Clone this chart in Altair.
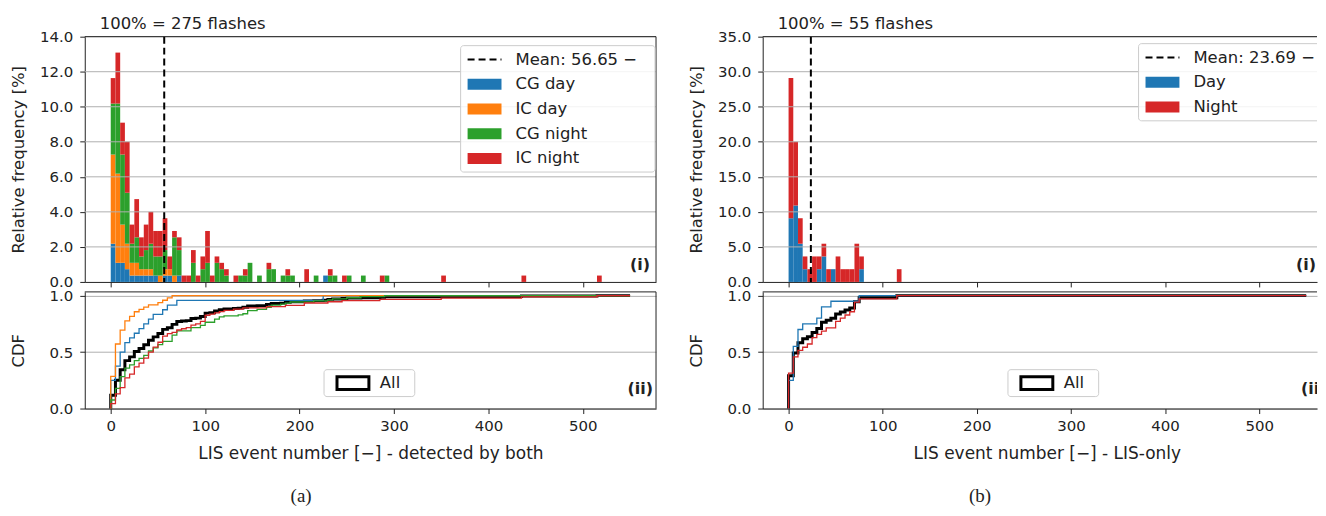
import altair as alt
import pandas as pd

# ---------------- (a) LIS event number, flashes detected by both ----------------
bins_a = [0, 5, 10, 15, 20, 25, 30, 35, 40, 45, 50, 55, 60, 65, 70, 75, 80, 85, 90, 95,
          100, 105, 110, 115, 120, 130, 135, 140, 145, 155, 165, 170, 180, 185, 190,
          205, 215, 225, 230, 235, 245, 250, 265, 285, 290, 350, 435, 515]
cg_day_a = [6, 3, 3, 2, 1, 1, 1, 1, 1, 1, 0, 1, 1, 0, 1, 0, 0, 0, 0, 0,
            0, 0, 0, 0, 0, 0, 0, 0, 0, 0, 0, 0, 0, 0, 0,
            0, 0, 1, 0, 0, 0, 0, 0, 0, 0, 0, 0, 0]
ic_day_a = [14, 14, 6, 4, 2, 2, 1, 1, 1, 0, 1, 1, 1, 1, 0, 0, 0, 0, 0, 0,
            0, 0, 0, 0, 0, 0, 0, 0, 0, 0, 0, 0, 0, 0, 0,
            0, 0, 0, 0, 0, 0, 0, 0, 0, 0, 0, 0, 0]
cg_night_a = [8, 11, 11, 8, 3, 4, 2, 3, 4, 3, 3, 3, 0, 6, 4, 0, 0, 3, 0, 2,
              3, 0, 3, 2, 1, 0, 1, 1, 3, 1, 2, 2, 1, 1, 1,
              0, 1, 0, 1, 1, 0, 1, 1, 0, 1, 0, 0, 0]
ic_night_a = [4, 8, 5, 8, 3, 6, 3, 4, 5, 4, 4, 5, 2, 1, 2, 1, 1, 2, 1, 2,
              5, 1, 1, 1, 1, 1, 0, 1, 0, 0, 1, 0, 0, 1, 0,
              2, 0, 0, 1, 0, 1, 0, 0, 1, 0, 1, 1, 1]
total_a = 275
mean_a = 56.65
cats_a = ["CG day", "IC day", "CG night", "IC night"]
colors_a = ["#1f77b4", "#ff7f0e", "#2ca02c", "#d62728"]
yticks_a = [0, 2, 4, 6, 8, 10, 12, 14]
xtitle_a = "LIS event number [\u2212] - detected by both"

# ---------------- (b) LIS event number, LIS-only flashes ----------------
bins_b = [0, 5, 10, 15, 20, 25, 30, 35, 40, 45, 50, 55, 60, 65, 70, 75, 115]
day_b = [5, 6, 3, 1, 0, 0, 1, 2, 0, 1, 0, 0, 0, 0, 0, 1, 0]
night_b = [11, 5, 2, 1, 1, 2, 1, 1, 1, 0, 2, 1, 1, 1, 3, 1, 1]
total_b = 55
mean_b = 23.69
cats_b = ["Day", "Night"]
colors_b = ["#1f77b4", "#d62728"]
yticks_b = [0, 5, 10, 15, 20, 25, 30, 35]
xtitle_b = "LIS event number [\u2212] - LIS-only"

bin_width = 5
cdf_end = 550
xticks = [0, 100, 200, 300, 400, 500]
cdf_ticks = [0, 0.5, 1.0]

# ---------------- layout ----------------
FONT = "DejaVu Sans"
INK = "#222222"
GRID = "#b0b0b0"
WL, WR = 573, 556
HH, HC = 246, 117
XL = [-27.5, 577.5]
XR = [-27.5, -27.5 + WR / 0.944]
CDF_MAX = 1.033

one = pd.DataFrame({"d": [0]})


def txt(s, x, y, size=16.5, align="left", weight="normal", font=FONT, clip=False):
    return alt.Chart(one).mark_text(
        text=s, align=align, baseline="middle", fontSize=size, fontWeight=weight,
        font=font, color=INK, clip=clip
    ).encode(x=alt.value(x), y=alt.value(y))


def box(x1, x2, y1, y2, clip=False):
    return alt.Chart(one).mark_rect(
        fill="white", fillOpacity=0.85, stroke="#cccccc", strokeWidth=1,
        cornerRadius=3, clip=clip
    ).encode(x=alt.value(x1), x2=alt.value(x2), y=alt.value(y1), y2=alt.value(y2))


def patch(x1, x2, y1, y2, color):
    return alt.Chart(one).mark_rect(color=color).encode(
        x=alt.value(x1), x2=alt.value(x2), y=alt.value(y1), y2=alt.value(y2))


def hline(y):
    return alt.Chart(one).mark_rule(color=INK, strokeWidth=1).encode(y=alt.value(y))


def vline(x):
    return alt.Chart(one).mark_rule(color=INK, strokeWidth=1).encode(x=alt.value(x))


def hist_frame(bins, series, names):
    rows = []
    for k, (name, vals) in enumerate(zip(names, series)):
        for b, n in zip(bins, vals):
            if n:
                rows.append({"start": b, "end": b + bin_width, "cat": name, "k": k, "n": n})
    return pd.DataFrame(rows)


def cdf_frame(bins, series, names):
    rows = []
    allv = [sum(v) for v in zip(*series)]
    for name, vals in list(zip(names, series)) + [("All", allv)]:
        tot = sum(vals)
        c = 0
        i = 0
        rows.append({"x": 0, "cdf": 0.0, "s": name, "i": i})
        for b, n in zip(bins, vals):
            if n:
                c += n
                i += 1
                rows.append({"x": b, "cdf": c / tot, "s": name, "i": i})
        rows.append({"x": cdf_end, "cdf": 1.0, "s": name, "i": i + 1})
    return pd.DataFrame(rows)


def hist_panel(bins, series, names, colors, total, mean, yticks, xdom, W, label_total, right_open):
    df = hist_frame(bins, series, names)
    xs = alt.Scale(domain=xdom, nice=False, zero=False)
    ys = alt.Scale(domain=[0, yticks[-1]], nice=False, zero=True)
    xax = alt.Axis(values=xticks, labels=False, title=None, grid=False, tickSize=5,
                   domain=True, labelFlush=False)
    yax = alt.Axis(values=yticks, format=".1f", grid=False, tickSize=5, labelPadding=7,
                   labelFlush=False, title="Relative frequency [%]", titleX=-58)
    bars = alt.Chart(df).transform_calculate(
        pct=f"datum.n * 100 / {total}"
    ).transform_stack(
        stack="pct", groupby=["start"], sort=[alt.SortField("k", order="ascending")],
        as_=["y0", "y1"]
    ).mark_rect(strokeWidth=0).encode(
        x=alt.X("start:Q", scale=xs, axis=xax),
        x2="end:Q",
        y=alt.Y("y0:Q", scale=ys, axis=yax),
        y2="y1:Q",
        color=alt.Color("cat:N", scale=alt.Scale(domain=names, range=colors), legend=None),
    )
    grid = alt.Chart(pd.DataFrame({"y0": yticks[1:]})).mark_rule(
        color=GRID, strokeWidth=1).encode(y=alt.Y("y0:Q", scale=ys, axis=yax))
    mrule = alt.Chart(pd.DataFrame({"start": [mean]})).mark_rule(
        color="black", strokeDash=[7, 4], strokeWidth=2).encode(
        x=alt.X("start:Q", scale=xs, axis=xax))
    layers = [bars, grid, mrule, hline(0)]
    if not right_open:
        layers.append(vline(W))
    clip = right_open
    by = 9 if not right_open else 7
    n = len(names)
    layers.append(box(377, 572 if not right_open else W + 6, by, by + 28 + 24.7 * n, clip=clip))
    ly = by + 14
    layers.append(alt.Chart(one).mark_rule(color="black", strokeDash=[7, 4], strokeWidth=2).encode(
        x=alt.value(384), x2=alt.value(418), y=alt.value(ly)))
    layers.append(txt(f"Mean: {mean:.2f} \u2212", 432, ly, clip=clip))
    for j, (nm, col) in enumerate(zip(names, colors)):
        yy = ly + 24.8 * (j + 1)
        layers.append(patch(384, 418, yy - 5.5, yy + 5.5, col))
        layers.append(txt(nm, 432, yy, clip=clip))
    layers.append(txt(f"100% = {label_total} flashes", 15, -13))
    if right_open:
        layers.append(txt("(i)", W - 1, 229, size=16, weight="bold", align="right"))
    else:
        layers.append(txt("(i)", W - 6, 229, size=16, weight="bold", align="right"))
    return alt.layer(*layers).properties(width=W, height=HH)


def cdf_panel(bins, series, names, colors, xdom, W, xtitle, caption, right_open, leg_x):
    df = cdf_frame(bins, series, names)
    xs = alt.Scale(domain=xdom, nice=False, zero=False)
    ys = alt.Scale(domain=[0, CDF_MAX], nice=False, zero=True)
    if right_open:
        xax = alt.Axis(values=xticks, format="d", grid=False, tickSize=5, labelPadding=5,
                       labelFlush=False, title=xtitle, titlePadding=12, titleX=285,
                       titleFontSize=17)
    else:
        xax = alt.Axis(values=xticks, format="d", grid=False, tickSize=5, labelPadding=5,
                       labelFlush=False, title=xtitle, titlePadding=12, titleFontSize=17)
    yax = alt.Axis(values=cdf_ticks, format=".1f", grid=True, gridColor=GRID, tickSize=5,
                   labelPadding=7, labelFlush=False, title="CDF", titleX=-58)
    base_all = alt.Chart(df).transform_filter(alt.datum.s == "All").mark_line(
        interpolate="step-after", strokeWidth=3, color="black").encode(
        x=alt.X("x:Q", scale=xs, axis=xax),
        y=alt.Y("cdf:Q", scale=ys, axis=yax),
        order=alt.Order("i:Q"),
    )
    lines = alt.Chart(df).transform_filter(alt.datum.s != "All").mark_line(
        interpolate="step-after", strokeWidth=1.3).encode(
        x=alt.X("x:Q", scale=xs, axis=xax),
        y=alt.Y("cdf:Q", scale=ys, axis=yax),
        color=alt.Color("s:N", scale=alt.Scale(domain=names, range=colors), legend=None),
        order=alt.Order("i:Q"),
    )
    layers = [base_all, lines, hline(0)]
    if not right_open:
        layers.append(vline(W))
    layers.append(box(leg_x, leg_x + 91, 78, 105))
    layers.append(alt.Chart(one).mark_rect(fillOpacity=0, stroke="black", strokeWidth=3).encode(
        x=alt.value(leg_x + 13), x2=alt.value(leg_x + 45), y=alt.value(85), y2=alt.value(98)))
    layers.append(txt("All", leg_x + 56, 91.5))
    if right_open:
        layers.append(txt("(ii)", 540, 97, size=16, weight="bold", clip=True))
    else:
        layers.append(txt("(ii)", W - 3, 97, size=16, weight="bold", align="right"))
    layers.append(txt(caption, 217 if not right_open else 218, 205, size=19,
                      font="Liberation Serif", align="center"))
    return alt.layer(*layers).properties(width=W, height=HC)


hist_a = hist_panel(bins_a, [cg_day_a, ic_day_a, cg_night_a, ic_night_a], cats_a, colors_a,
                    total_a, mean_a, yticks_a, XL, WL, total_a, False)
cdf_a = cdf_panel(bins_a, [cg_day_a, ic_day_a, cg_night_a, ic_night_a], cats_a, colors_a,
                  XL, WL, xtitle_a, "(a)", False, 240)
hist_b = hist_panel(bins_b, [day_b, night_b], cats_b, colors_b,
                    total_b, mean_b, yticks_b, XR, WR, total_b, True)
cdf_b = cdf_panel(bins_b, [day_b, night_b], cats_b, colors_b,
                  XR, WR, xtitle_b, "(b)", True, 246)

left = alt.vconcat(hist_a, cdf_a, spacing=10, bounds="flush").resolve_scale(color="independent")
right = alt.vconcat(hist_b, cdf_b, spacing=10, bounds="flush").resolve_scale(color="independent")

chart = alt.hconcat(left, right, spacing=31).resolve_scale(
    color="independent"
).properties(
    padding={"left": 2, "top": 6, "right": 0, "bottom": 0},
    background="white",
).configure_view(
    stroke="transparent"
).configure_axis(
    labelFont=FONT, titleFont=FONT, labelFontSize=15, titleFontSize=16.5,
    titleFontWeight="normal", labelColor=INK, titleColor=INK,
    domainColor=INK, tickColor=INK, domainWidth=1, tickWidth=1,
)

chart.save("out.html", embed_options={"renderer": "svg", "actions": False})
